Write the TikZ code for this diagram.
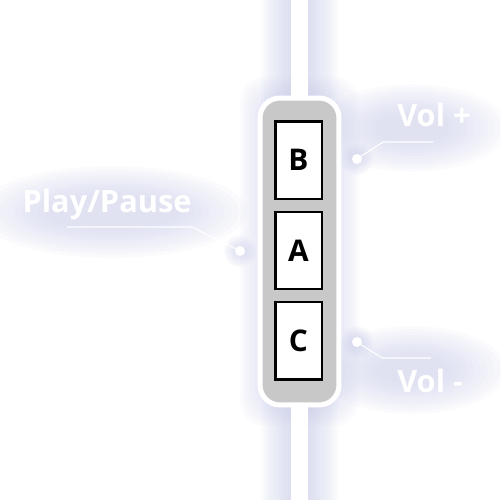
\documentclass[tikz,border=0pt]{standalone}
\usepackage{fontspec}
\setmainfont{Open Sans}
\usetikzlibrary{positioning}
\definecolor{glowblue}{HTML}{C9CDEC}
\definecolor{housegray}{HTML}{C8C8C8}

\begin{document}
\begin{tikzpicture}[
    x=0.02cm, y=-0.02cm,
    btn/.style={draw=black, line width=0.05cm, fill=white, minimum width=0.93cm, minimum height=1.55cm, inner sep=0pt, font=\fontsize{17}{17}\selectfont\bfseries},
    lbl/.style={text=white, font=\fontsize{17.5}{18}\selectfont\bfseries, inner sep=0pt},
    glow/.style={fill=glowblue, opacity=0.07},
    lead/.style={draw=white, line width=0.6pt},
    dot/.style={circle, fill=white, minimum size=0.2cm, inner sep=0pt},
]
\useasboundingbox[fill=white] (0,0) rectangle (500,500);

% Glow behind labels
\foreach \k in {1,...,10} {
  \fill[glow] (112,212) ellipse ({60+7.5*\k} and {14+3.2*\k});
  \fill[glow] (412,128) ellipse ({30+6.5*\k} and {12+3.2*\k});
  \fill[glow] (412,370) ellipse ({30+6.5*\k} and {12+3.2*\k});
  \fill[glow] (240,251) circle ({2+1.4*\k});
  \fill[glow] (357,159) circle ({2+1.4*\k});
  \fill[glow] (357,342) circle ({2+1.4*\k});
}

% Cable glow
\foreach \k in {1,...,10}
  \draw[glowblue, opacity=0.08, line width={0.34cm+\k*0.12cm}] (299.5,0) -- (299.5,500);
\foreach \k in {1,...,6}
  \fill[glowblue, opacity=0.07, rounded corners=0.5cm] (258-3*\k,95-3*\k) rectangle (341+3*\k,408+3*\k);

% Cable
\draw[white, line width=0.34cm] (299.5,0) -- (299.5,500);

% Housing
\node[draw=white, line width=0.1cm, fill=housegray, rounded corners=0.4cm, minimum width=1.58cm, minimum height=6.14cm] (housing) at (299.5,251.5) {};

% Buttons
\node[btn] (btnA) at (298.5,250.5) {A};
\node[btn, above=0.21cm of btnA] (btnB) {B};
\node[btn, below=0.21cm of btnA] (btnC) {C};

% Labels
\node[lbl, anchor=base] (lblPlay) at (107,212) {Play/Pause};
\node[lbl, anchor=base west] (lblUp) at (397,127) {Vol +};
\node[lbl, anchor=base west] (lblDown) at (397,392) {Vol -};

% Leader lines
\node[dot] (dotPlay) at (240,251) {};
\node[dot] (dotUp) at (357,159) {};
\node[dot] (dotDown) at (357,342) {};
\coordinate (playBend) at (192,227);
\coordinate (playEnd) at (67,227);
\coordinate (upBend) at (383,142);
\coordinate (upEnd) at (433,142);
\coordinate (downBend) at (382,358);
\coordinate (downEnd) at (431,358);
\draw[lead] (dotPlay) -- (playBend) -- (playEnd);
\draw[lead] (dotUp) -- (upBend) -- (upEnd);
\draw[lead] (dotDown) -- (downBend) -- (downEnd);

\end{tikzpicture}
\end{document}
